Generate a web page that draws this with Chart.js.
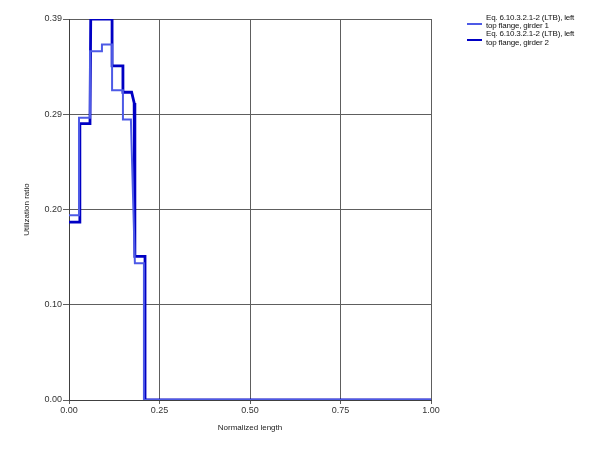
<!DOCTYPE html>
<html>
<head>
<meta charset="utf-8">
<script src="https://cdn.jsdelivr.net/npm/chart.js@4/dist/chart.umd.min.js"></script>
<style>
  body { margin: 0; background: #fff; }
  #wrap { position: relative; width: 600px; height: 450px; }
  #legend { position: absolute; left: 467px; top: 14px; font-family: "Liberation Sans", Arial, sans-serif; font-size: 8px; letter-spacing: -0.2px; color: #111; }
  .item { position: relative; padding-left: 19px; line-height: 8.2px; }
  .swatch { position: absolute; left: 0; width: 15px; top: 9px; }
</style>
</head>
<body>
<div id="wrap">
  <canvas id="chart" width="600" height="450"></canvas>
  <div id="legend"></div>
</div>
<script>
// Normalized length positions and utilization ratios (steps repeat the x value)
const girder1X = [0, 0.0276, 0.0276, 0.058, 0.058, 0.091, 0.091, 0.119, 0.119, 0.149, 0.149, 0.171, 0.182, 0.207, 0.207, 1.0];
const girder1Y = [0.189, 0.189, 0.289, 0.289, 0.357, 0.357, 0.364, 0.364, 0.317, 0.317, 0.287, 0.287, 0.140, 0.140, 0, 0];
const girder2X = [0, 0.028, 0.030, 0.058, 0.060, 0.119, 0.119, 0.149, 0.149, 0.173, 0.180, 0.182, 0.210, 0.210, 1.0];
const girder2Y = [0.182, 0.182, 0.283, 0.283, 0.390, 0.390, 0.342, 0.342, 0.315, 0.315, 0.304, 0.147, 0.147, 0, 0];

const seriesLabels = [
  ['Eq. 6.10.3.2.1-2 (LTB), left', 'top flange, girder 1'],
  ['Eq. 6.10.3.2.1-2 (LTB), left', 'top flange, girder 2']
];
const seriesColors = ['#4d5ae6', '#0000c4'];
const seriesWidths = [2, 2.8];

const xTicks = [0, 0.25, 0.5, 0.75, 1.0];
const yTicks = [0, 0.0975, 0.195, 0.2925, 0.39];

function toPoints(xs, ys) {
  return xs.map((x, i) => ({ x: x, y: ys[i] }));
}

const tickFont = { family: 'Liberation Sans', size: 9 };
const titleFont = { family: 'Liberation Sans', size: 8 };

const datasets = [toPoints(girder1X, girder1Y), toPoints(girder2X, girder2Y)].map((pts, i) => ({
  label: seriesLabels[i].join(' '),
  data: pts,
  showLine: true,
  borderColor: seriesColors[i],
  backgroundColor: seriesColors[i],
  borderWidth: seriesWidths[i],
  pointRadius: 0,
  tension: 0
}));

new Chart(document.getElementById('chart'), {
  type: 'scatter',
  data: { datasets: datasets },
  options: {
    responsive: false,
    animation: false,
    layout: { padding: { top: 19, right: 169, left: 0, bottom: 0 } },
    plugins: { legend: { display: false }, tooltip: { enabled: false } },
    scales: {
      x: {
        type: 'linear', min: 0, max: 1,
        afterBuildTicks: s => { s.ticks = xTicks.map(v => ({ value: v })); },
        afterFit: s => { s.height = 50; },
        ticks: { font: tickFont, color: '#333', padding: 1, maxRotation: 0, callback: v => v.toFixed(2) },
        grid: { color: '#5e5e5e', tickLength: 4, lineWidth: 1 },
        border: { color: '#404040' },
        title: { display: true, text: 'Normalized length', font: titleFont, color: '#222', padding: { top: 0, bottom: 17 } }
      },
      y: {
        min: 0, max: 0.39,
        afterBuildTicks: s => { s.ticks = yTicks.map(v => ({ value: v })); },
        afterFit: s => { s.width = 69; },
        ticks: { font: tickFont, color: '#333', padding: 1, callback: v => v.toFixed(2) },
        grid: { color: '#5e5e5e', tickLength: 6, lineWidth: 1 },
        border: { color: '#404040' },
        title: { display: true, text: 'Utilization ratio', font: titleFont, color: '#222', padding: { top: 22, bottom: 0 } }
      }
    }
  }
});

// Legend built from the same labels and colours
const legend = document.getElementById('legend');
seriesLabels.forEach((lines, i) => {
  const item = document.createElement('div');
  item.className = 'item';
  item.innerHTML = lines.join('<br>');
  const sw = document.createElement('div');
  sw.className = 'swatch';
  sw.style.borderTop = seriesWidths[i] + 'px solid ' + seriesColors[i];
  item.appendChild(sw);
  legend.appendChild(item);
});
</script>
</body>
</html>
